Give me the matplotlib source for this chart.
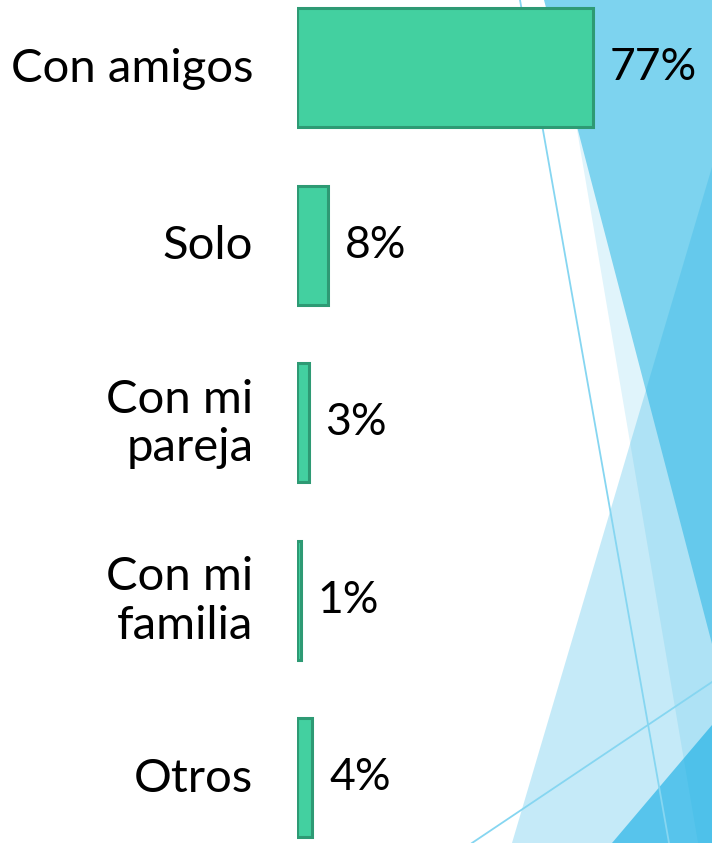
import matplotlib
matplotlib.use("Agg")
import matplotlib.pyplot as plt
from matplotlib.patches import Polygon

# datos
categorias = ["Con amigos", "Solo", "Con mi\npareja", "Con mi\nfamilia", "Otros"]
valores = [77, 8, 3, 1, 4]
etiquetas = ["77%", "8%", "3%", "1%", "4%"]

plt.rcParams['font.family'] = ['Lato', 'DejaVu Sans']


def fondo(fig):
    # formas decorativas del tema (coordenadas en pixeles)
    bg = fig.add_axes([0, 0, 1, 1])
    bg.set_xlim(0, 712)
    bg.set_ylim(843, 0)
    bg.axis("off")
    bg.add_patch(Polygon([(555, 0), (698, 843), (712, 843), (712, 0)],
                         closed=True, color="#E0F4FB", lw=0))
    bg.add_patch(Polygon([(544, 0), (712, 644), (712, 0)],
                         closed=True, color="#7DD3EF", lw=0))
    bg.add_patch(Polygon([(712, 167), (512, 843), (712, 843)],
                         closed=True, color="#22B0E4", alpha=0.26, lw=0))
    bg.add_patch(Polygon([(712, 725), (612, 843), (712, 843)],
                         closed=True, color="#0EACE4", alpha=0.6, lw=0))
    bg.plot([520, 669], [0, 843], color="#86D6F1", lw=1.3)
    bg.plot([472, 712], [843, 682], color="#86D6F1", lw=1.3)


def main():
    fig = plt.figure(figsize=(7.12, 8.43), dpi=100)
    fondo(fig)

    ax = fig.add_axes([297 / 712, 0, 384 / 712, 1])
    ax.patch.set_alpha(0)
    y = list(range(len(categorias)))
    ax.barh(y, valores, height=0.67, color="#43D0A0",
            edgecolor="#2E9A74", linewidth=2.2)
    ax.set_xlim(0, 100)
    ax.set_ylim(4.367, -0.380)
    ax.axis("off")

    for i in y:
        ax.annotate(categorias[i], xy=(0, i), xytext=(-31.5, -1),
                    textcoords="offset points", ha="right", va="center",
                    fontsize=34, linespacing=1.2, color="black")
        ax.annotate(etiquetas[i], xy=(valores[i], i), xytext=(12, 0),
                    textcoords="offset points", ha="left", va="center",
                    fontsize=32, color="black")

    fig.savefig("out.png", dpi=100)


if __name__ == "__main__":
    main()
